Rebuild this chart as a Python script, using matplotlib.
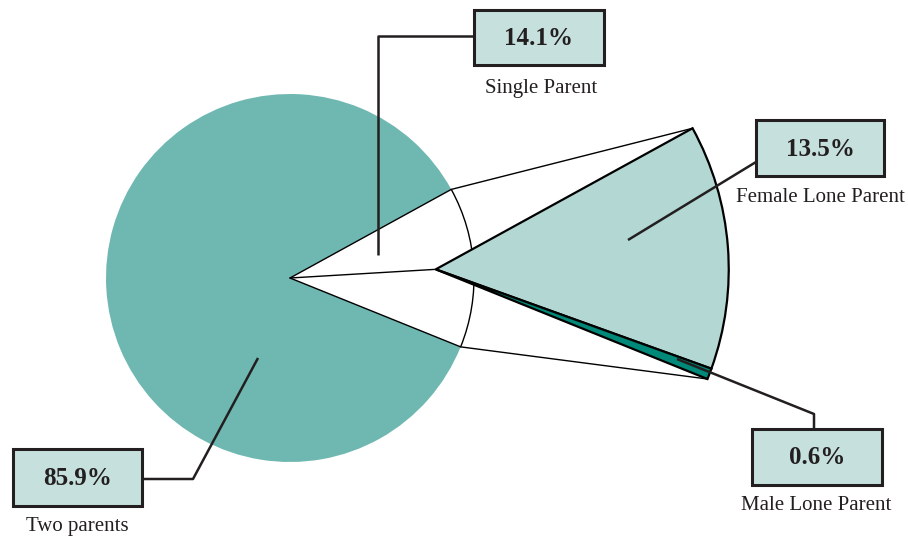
import numpy as np
import matplotlib
matplotlib.use("Agg")
import matplotlib.pyplot as plt
from matplotlib.patches import Wedge, Rectangle

# ----------------------
# DATA
# ----------------------

main_labels = ["Two parents", "Single Parent"]
main_values = [85.9, 14.1]

sub_labels = ["Female Lone Parent", "Male Lone Parent"]
sub_values = [13.5, 0.6]

# ----------------------
# STYLE / LAYOUT (pixel units, y measured from the bottom)
# ----------------------

W, H = 908, 540
TEAL = "#6fb8b1"
LIGHT = "#b3d7d3"
DARK = "#008878"
BOX = "#c6e1dd"
INK = "#231f20"

plt.rcParams["font.family"] = ["Liberation Serif", "DejaVu Serif"]

main_center = np.array([290.0, 262.0])
main_r = 184.0
split_dir = 3.4          # direction the single-parent slice points at (deg)
sub_offset = 146.0       # distance from main centre to the breakout apex
sub_r = 293.0

fig = plt.figure(figsize=(W / 100, H / 100), dpi=100)
ax = fig.add_axes([0, 0, 1, 1])
ax.set_xlim(0, W)
ax.set_ylim(0, H)
ax.set_aspect("equal")
ax.axis("off")


def polar(c, r, deg):
    a = np.radians(deg)
    return c + r * np.array([np.cos(a), np.sin(a)])


# ----------------------
# MAIN PIE
# ----------------------

total = sum(main_values)
span = 360.0 * main_values[1] / total
t_lo = split_dir - span / 2
t_hi = split_dir + span / 2

ax.add_patch(Wedge(main_center, main_r, t_hi, t_lo + 360,
                   facecolor=TEAL, edgecolor="none"))
ax.add_patch(Wedge(main_center, main_r, t_lo, t_hi,
                   facecolor="white", edgecolor="black", lw=1.0))

# ----------------------
# BREAKOUT OF THE SINGLE-PARENT SLICE
# ----------------------

apex = polar(main_center, sub_offset, split_dir)
male_span = span * sub_values[1] / sum(sub_values)

ax.plot([main_center[0], apex[0]], [main_center[1], apex[1]],
        color="black", lw=1.0)

for t in (t_lo, t_hi):
    p0 = polar(main_center, main_r, t)
    p1 = polar(apex, sub_r, t)
    ax.plot([p0[0], p1[0]], [p0[1], p1[1]], color="black", lw=1.0)

ax.add_patch(Wedge(apex, sub_r, t_lo + male_span, t_hi,
                   facecolor=LIGHT, edgecolor="black", lw=1.6))
ax.add_patch(Wedge(apex, sub_r, t_lo, t_lo + male_span,
                   facecolor=DARK, edgecolor="black", lw=1.6))

# ----------------------
# LABEL BOXES AND LEADERS
# ----------------------

labels = [
    # value, name, box (x0, y0, w, h), name position, leader path
    (main_values[1], main_labels[1], (474, 475, 130, 55), (541, 452),
     [(378, 285), (378, 504), (474, 504)]),
    (sub_values[0], sub_labels[0], (756, 364, 128, 56), (820, 343),
     [(628, 300), (756, 378)]),
    (sub_values[1], sub_labels[1], (752, 55, 130, 56), (816, 34),
     [(677, 181), (814, 126), (814, 111)]),
    (main_values[0], main_labels[0], (13, 34, 129, 57), (77, 13),
     [(258, 182), (193, 61), (142, 61)]),
]

for value, name, (x0, y0, bw, bh), (tx, ty), path in labels:
    xs, ys = zip(*path)
    ax.plot(xs, ys, color=INK, lw=1.8, solid_capstyle="butt")
    ax.add_patch(Rectangle((x0, y0), bw, bh, facecolor=BOX,
                           edgecolor=INK, lw=2.2, zorder=3))
    ax.text(x0 + bw / 2, y0 + bh / 2 - 1, f"{value:.1f}%", ha="center",
            va="center", fontsize=18, fontweight="bold", color=INK, zorder=4)
    ax.text(tx, ty, name, ha="center", va="center", fontsize=15, color=INK)

fig.savefig("out.png", dpi=100)
